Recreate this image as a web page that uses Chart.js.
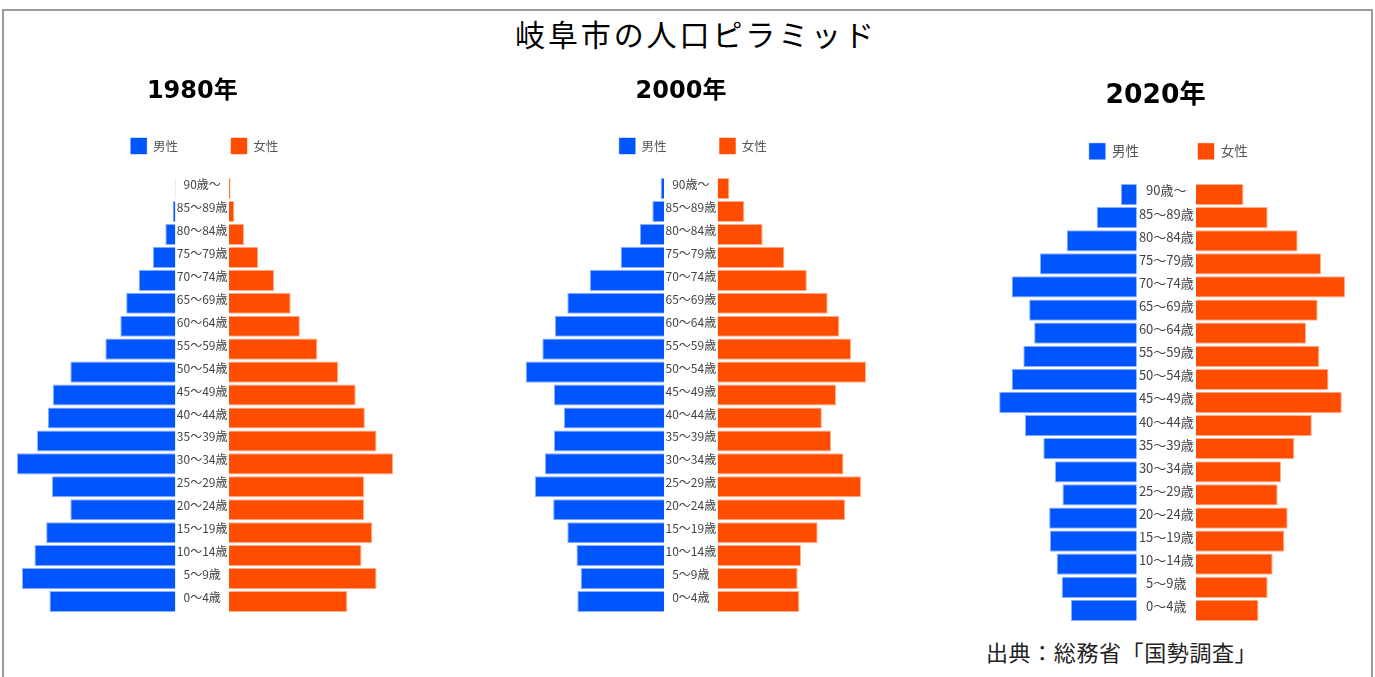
<!DOCTYPE html>
<html lang="ja">
<head>
<meta charset="utf-8">
<title>岐阜市の人口ピラミッド</title>
<script src="https://cdn.jsdelivr.net/npm/chart.js@4.4.0/dist/chart.umd.min.js"></script>
<style>
  html, body { margin: 0; padding: 0; background: #fff; }
  body { width: 1375px; height: 677px; position: relative; overflow: hidden; font-family: 'Noto Sans CJK JP', sans-serif; }
  #frame { position: absolute; left: 2px; top: 9px; width: 1371px; height: 720px; border: 2px solid #9a9a9a; box-sizing: border-box; }
  #title { position: absolute; left: 515px; top: 15px; font-size: 30px; letter-spacing: 2.9px; line-height: 36px; color: #000; white-space: nowrap; }
  #source { position: absolute; left: 986px; top: 636px; font-size: 22px; letter-spacing: 0.6px; line-height: 30px; color: #222; white-space: nowrap; }
  .box { position: absolute; }
</style>
</head>
<body>
<div id="frame"></div>
<div id="title">岐阜市の人口ピラミッド</div>

<div class="box" style="left:10px; top:60px; width:389px; height:553px;"><canvas id="c1980"></canvas></div>
<div class="box" style="left:490px; top:60px; width:406px; height:553px;"><canvas id="c2000"></canvas></div>
<div class="box" style="left:962px; top:64px; width:413px; height:558px;"><canvas id="c2020"></canvas></div>

<div id="source">出典：総務省「国勢調査」</div>

<script>
// 年齢階級（下から上へ）
var ageLabels = ['0～4歳', '5～9歳', '10～14歳', '15～19歳', '20～24歳', '25～29歳', '30～34歳', '35～39歳',
  '40～44歳', '45～49歳', '50～54歳', '55～59歳', '60～64歳', '65～69歳', '70～74歳', '75～79歳',
  '80～84歳', '85～89歳', '90歳～'];

// 人口（人）、グラフから読み取った概算値
var male1980   = [15100, 18400, 16900, 15500, 12600, 14800, 19000, 16600, 15300, 14700, 12600, 8400, 6600, 5900, 4400, 2700, 1200, 320, 60];
var female1980 = [14200, 17700, 15900, 17200, 16200, 16200, 19700, 17700, 16300, 15200, 13100, 10600, 8500, 7400, 5400, 3500, 1800, 640, 180];

var male2000   = [10400, 10000, 10500, 11600, 13300, 15500, 14300, 13200, 12000, 13200, 16600, 14600, 13100, 11600, 8900, 5200, 2900, 1400, 400];
var female2000 = [9800, 9600, 10000, 12000, 15300, 17200, 15100, 13600, 12500, 14200, 17800, 16000, 14600, 13200, 10700, 8000, 5400, 3200, 1400];

var male2020   = [7900, 9000, 9600, 10400, 10500, 8900, 9800, 11200, 13400, 16500, 15000, 13600, 12300, 12900, 15000, 11600, 8400, 4800, 1900];
var female2020 = [7500, 8600, 9200, 10600, 11000, 9800, 10200, 11800, 13900, 17500, 15900, 14800, 13200, 14600, 17900, 15000, 12200, 8600, 5700];

var BLUE = 'rgb(0, 85, 255)';
var BLUE_EDGE = 'rgba(0, 85, 255, 0.45)';
var ORANGE = 'rgb(255, 77, 0)';
var ORANGE_EDGE = 'rgba(255, 77, 0, 0.45)';

Chart.defaults.font.family = "'Noto Sans CJK JP', sans-serif";

// 中央に年齢ラベルを描くプラグイン
var ageLabelPlugin = {
  id: 'ageLabels',
  afterDatasetsDraw: function(chart, args, opts) {
    var ctx = chart.ctx;
    var x = chart.scales.x, y = chart.scales.y;
    ctx.save();
    ctx.font = opts.size + "px 'Noto Sans CJK JP', sans-serif";
    ctx.fillStyle = '#444';
    ctx.textAlign = 'center';
    ctx.textBaseline = 'middle';
    chart.data.labels.forEach(function(label, i) {
      ctx.fillText(label, x.getPixelForValue(0), y.getPixelForValue(i) + opts.dy);
    });
    ctx.restore();
  }
};

function makePyramid(id, year, male, female, o) {
  return new Chart(document.getElementById(id), {
    type: 'bar',
    data: {
      labels: ageLabels,
      datasets: [{
        label: '男性',
        data: male.map(function(v) { return [-o.gap - v, -o.gap]; }),
        backgroundColor: BLUE,
        borderColor: BLUE_EDGE,
        borderWidth: 1,
        clip: false
      }, {
        label: '女性',
        data: female.map(function(v) { return [o.gap, o.gap + v]; }),
        backgroundColor: ORANGE,
        borderColor: ORANGE_EDGE,
        borderWidth: 1,
        clip: false
      }]
    },
    options: {
      indexAxis: 'y',
      responsive: true,
      maintainAspectRatio: false,
      animation: false,
      layout: { padding: 0 },
      datasets: {
        bar: { grouped: false, barPercentage: 0.92, categoryPercentage: 1 }
      },
      scales: {
        x: {
          position: 'top',
          min: o.min,
          max: o.max,
          grid: { display: false },
          border: { display: false },
          ticks: { display: false },
          afterFit: function(s) { s.height = o.spacer; }
        },
        y: {
          position: 'right',
          reverse: true,
          grid: { display: false },
          border: { display: false },
          ticks: { display: false },
          afterFit: function(s) { s.width = o.right; }
        }
      },
      plugins: {
        title: {
          display: true,
          text: year,
          fullSize: false,
          color: '#000',
          font: { family: "'DejaVu Sans', 'Noto Sans CJK JP', sans-serif", size: o.titleSize, weight: 'bold' },
          padding: { top: o.titleTop, bottom: o.titleBottom }
        },
        legend: {
          labels: {
            boxWidth: 16,
            boxHeight: 16,
            padding: o.legendGap,
            color: '#555',
            font: { size: o.legendSize }
          }
        },
        tooltip: { enabled: false },
        ageLabels: { size: o.labelSize, dy: -4 }
      }
    },
    plugins: [ageLabelPlugin]
  });
}

makePyramid('c1980', '1980年', male1980, female1980, {
  min: -23060, max: 20690, gap: 3220, right: 24.4, spacer: 13.1,
  titleSize: 24, titleTop: 17.6, titleBottom: -21.4,
  legendGap: 53, legendSize: 12.5, labelSize: 12
});

makePyramid('c2000', '2000年', male2000, female2000, {
  min: -24100, max: 21740, gap: 3220, right: 24, spacer: 13.1,
  titleSize: 24, titleTop: 17.6, titleBottom: -21.4,
  legendGap: 53, legendSize: 12.5, labelSize: 12
});

makePyramid('c2020', '2020年', male2020, female2020, {
  min: -24520, max: 21970, gap: 3560, right: 25.6, spacer: 13.7,
  titleSize: 26.5, titleTop: 16.1, titleBottom: -27.6,
  legendGap: 59, legendSize: 13.5, labelSize: 13
});
</script>
</body>
</html>
